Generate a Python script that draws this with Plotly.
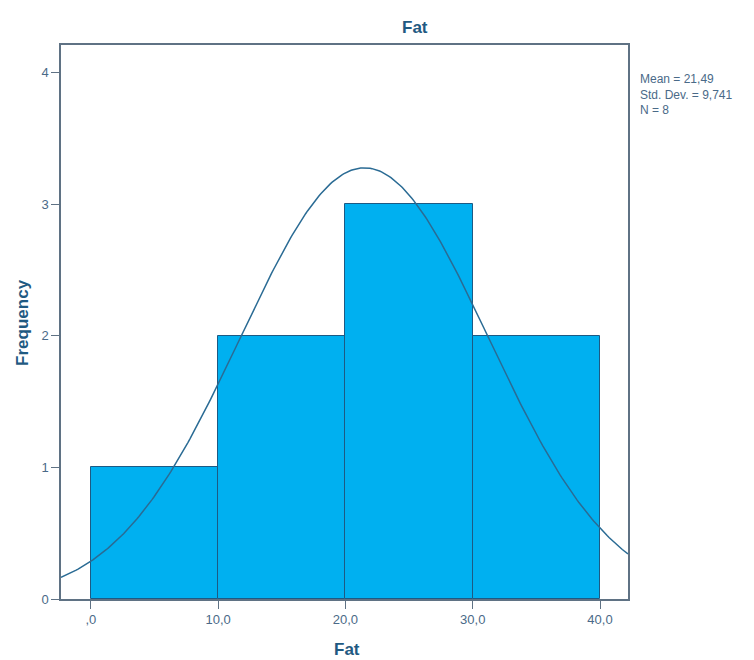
import numpy as np
import plotly.graph_objects as go

# Histogram of Fat: bin edges and counts
bin_left = [0, 10, 20, 30]
bin_width = 10
counts = [1, 2, 3, 2]
x_ticks = [0, 10, 20, 30, 40]
x_tick_labels = [",0", "10,0", "20,0", "30,0", "40,0"]
y_ticks = [0, 1, 2, 3, 4]

# Summary statistics shown beside the plot
mean_val = 21.49
std_val = 9.741
n_val = 8

x_range = [-2.35, 42.2]
y_range = [0, 4.21]

# Normal curve scaled to frequency units
xc = np.linspace(x_range[0], x_range[1], 300)
yc = n_val * bin_width * np.exp(-0.5 * ((xc - mean_val) / std_val) ** 2) / (std_val * np.sqrt(2 * np.pi))

edge = "#1d5a84"
text_col = "#4a6a88"
title_col = "#1f5a82"


def comma(v, d):
    return f"{v:.{d}f}".replace(".", ",")


stats_text = (f"Mean = {comma(mean_val, 2)}<br>"
              f"Std. Dev. = {comma(std_val, 3)}<br>"
              f"N = {n_val}")

fig = go.Figure()
fig.add_trace(go.Bar(
    x=[b + bin_width / 2 for b in bin_left], y=counts, width=bin_width,
    marker=dict(color="#00b0f0", line=dict(color=edge, width=1)),
    hoverinfo="skip",
))
fig.add_trace(go.Scatter(
    x=xc, y=yc, mode="lines", line=dict(color="#2a6b94", width=1.5), hoverinfo="skip",
))

fig.update_layout(
    width=754, height=660,
    margin=dict(l=61, r=126, t=45, b=61),
    paper_bgcolor="white", plot_bgcolor="white",
    showlegend=False, bargap=0,
    font=dict(family="Liberation Sans, Arial, sans-serif", color=text_col, size=13),
    xaxis=dict(range=x_range, tickvals=x_ticks, ticktext=x_tick_labels,
               ticks="outside", ticklen=8, tickcolor="#5f7284", tickwidth=1,
               showgrid=False, zeroline=False,
               showline=True, linecolor="#5f7284", linewidth=1.5, mirror=True,
               tickfont=dict(size=13, color=text_col)),
    yaxis=dict(range=y_range, tickvals=y_ticks,
               ticks="outside", ticklen=8, tickcolor="#5f7284", tickwidth=1,
               showgrid=False, zeroline=False,
               showline=True, linecolor="#5f7284", linewidth=1.5, mirror=True,
               tickfont=dict(size=13, color=text_col)),
    annotations=[
        dict(text="<b>Fat</b>", xref="paper", yref="paper", x=0.624, y=1.031,
             xanchor="center", yanchor="middle",
             showarrow=False, font=dict(size=17, color=title_col)),
        dict(text="<b>Fat</b>", xref="paper", yref="paper", x=0.505, y=-0.092,
             xanchor="center", yanchor="middle",
             showarrow=False, font=dict(size=17, color=title_col)),
        dict(text="<b>Frequency</b>", xref="paper", yref="paper", x=-0.069, y=0.50,
             xanchor="center", yanchor="middle",
             textangle=-90, showarrow=False, font=dict(size=17, color=title_col)),
        dict(text=stats_text,
             xref="paper", yref="paper", x=1.0176, y=0.955, xanchor="left", yanchor="top",
             align="left", showarrow=False, font=dict(size=12, color=text_col)),
    ],
)

fig.write_html("out.html")
